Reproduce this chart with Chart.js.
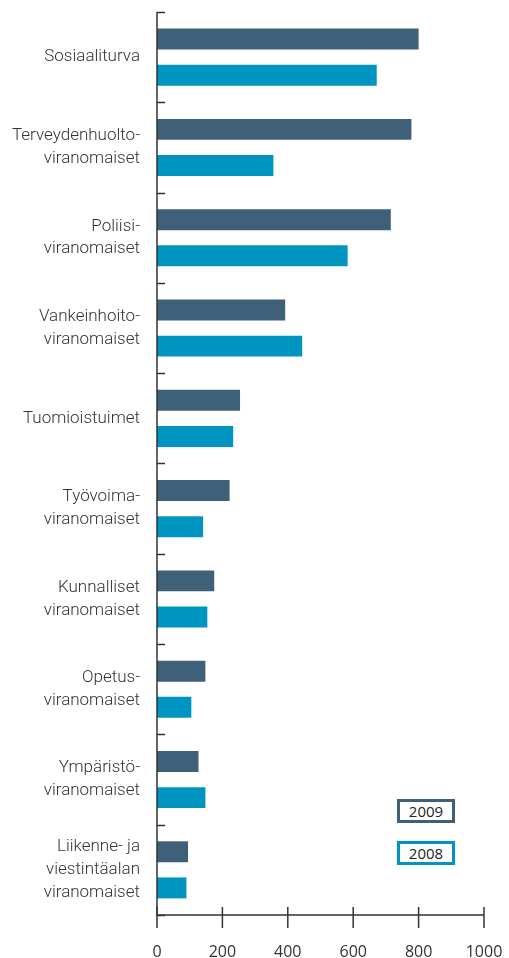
<!DOCTYPE html>
<html>
<head>
<meta charset="utf-8">
<script src="https://cdn.jsdelivr.net/npm/chart.js@4.4.0/dist/chart.umd.min.js"></script>
<style>
  html, body { margin: 0; padding: 0; background: #fff; }
  #wrap { position: relative; width: 509px; height: 958px; }
  canvas { display: block; }
  .leg { position: absolute; width: 52px; height: 18px; border: 3px solid; background: #fff;
         font: 15px "Open Sans", sans-serif; color: #222; text-align: center; line-height: 18px; }
</style>
</head>
<body>
<div id="wrap">
  <canvas id="c" width="509" height="958"></canvas>
  <div class="leg" id="l2009" style="left:397px; top:799px; border-color:#3e6179;">2009</div>
  <div class="leg" id="l2008" style="left:397px; top:841px; border-color:#0095c1;">2008</div>
</div>
<script>
const categories = [
  ["Sosiaaliturva"],
  ["Terveydenhuolto-", "viranomaiset"],
  ["Poliisi-", "viranomaiset"],
  ["Vankeinhoito-", "viranomaiset"],
  ["Tuomioistuimet"],
  ["Työvoima-", "viranomaiset"],
  ["Kunnalliset", "viranomaiset"],
  ["Opetus-", "viranomaiset"],
  ["Ympäristö-", "viranomaiset"],
  ["Liikenne- ja", "viestintäalan", "viranomaiset"]
];
const values2009 = [800, 778, 715, 392, 254, 222, 175, 148, 127, 95];
const values2008 = [672, 356, 583, 444, 233, 141, 154, 105, 148, 90];
const xTicks = [0, 200, 400, 600, 800, 1000];

const axisColor = '#333333';

const tickPlugin = {
  id: 'customTicks',
  afterDraw(chart) {
    const ctx = chart.ctx;
    const x = chart.scales.x, y = chart.scales.y;
    ctx.save();
    ctx.strokeStyle = axisColor;
    ctx.lineWidth = 1.5;
    const n = categories.length;
    const step = y.getPixelForValue(1) - y.getPixelForValue(0);
    for (let i = 0; i <= n; i++) {
      const py = y.getPixelForValue(0) - step / 2 + i * step;
      ctx.beginPath();
      ctx.moveTo(x.left, Math.round(py) + 0.5);
      ctx.lineTo(x.left + 8, Math.round(py) + 0.5);
      ctx.stroke();
    }
    xTicks.forEach(v => {
      const px = x.getPixelForValue(v);
      ctx.beginPath();
      ctx.moveTo(px, y.bottom - 8);
      ctx.lineTo(px, y.bottom + 13);
      ctx.stroke();
    });
    ctx.beginPath();
    ctx.moveTo(x.left, y.top);
    ctx.lineTo(x.left, y.bottom);
    ctx.lineTo(x.getPixelForValue(1000), y.bottom);
    ctx.stroke();
    ctx.restore();
  }
};

new Chart(document.getElementById('c'), {
  type: 'bar',
  data: {
    labels: categories,
    datasets: [
      { label: '2009', data: values2009, backgroundColor: '#3e6179', categoryPercentage: 0.8, barPercentage: 0.58 },
      { label: '2008', data: values2008, backgroundColor: '#0095c1', categoryPercentage: 0.8, barPercentage: 0.58 }
    ]
  },
  options: {
    indexAxis: 'y',
    responsive: false,
    animation: false,
    layout: { padding: { top: 12, right: 25, left: 0, bottom: 0 } },
    plugins: { legend: { display: false }, tooltip: { enabled: false } },
    scales: {
      x: {
        min: 0, max: 1000,
        afterBuildTicks(scale) { scale.ticks = xTicks.map(v => ({ value: v })); },
        afterFit(scale) { scale.height = 43; scale.paddingLeft = 0; scale.paddingRight = 0; },
        grid: { display: false, drawTicks: false },
        border: { display: false },
        ticks: { padding: 28, color: '#333', callback: v => String(v), maxRotation: 0,
                 font: { family: 'Open Sans', size: 16 } }
      },
      y: {
        afterFit(scale) { scale.width = 157; scale.paddingTop = 0; scale.paddingBottom = 0; },
        grid: { display: false, drawTicks: false },
        border: { display: false },
        ticks: { padding: 17, autoSkip: false, color: '#333',
                 font: { family: 'Roboto', size: 17, weight: 300, lineHeight: 1.35 } }
      }
    }
  },
  plugins: [tickPlugin]
});
</script>
</body>
</html>
